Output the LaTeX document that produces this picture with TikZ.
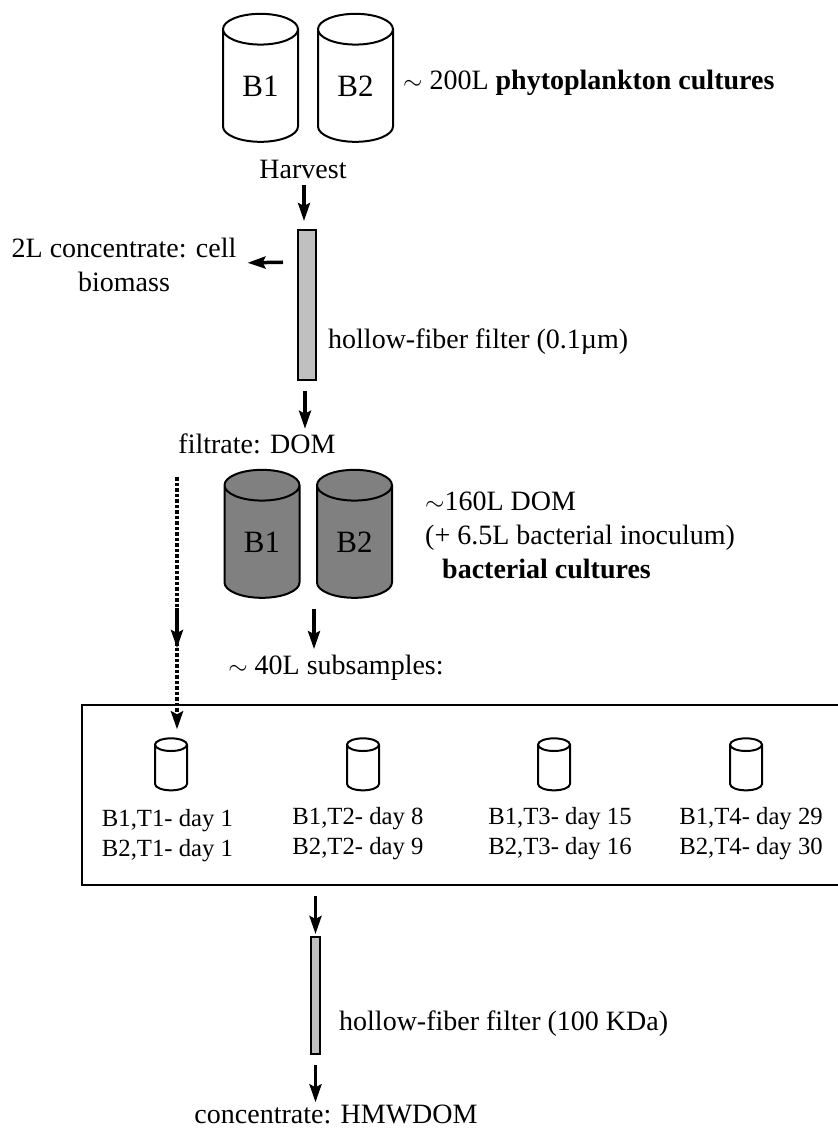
\documentclass[tikz,border=0pt]{standalone}
\usepackage{fontspec}
\setmainfont{Liberation Serif}
\usepackage{tikz}
\usetikzlibrary{arrows.meta,shapes.geometric}
\definecolor{drumdark}{RGB}{128,128,128}
\definecolor{drumtop}{RGB}{184,184,184}
\definecolor{filtergray}{RGB}{192,192,192}
\tikzset{
    flow/.style={-{Stealth[length=18pt,width=12pt,inset=3pt]},line width=3.5pt},
    drum/.style={draw,line width=2pt,cylinder,shape border rotate=90,aspect=0.85,
        minimum width=75pt,minimum height=128pt,inner sep=0pt,font=\fontsize{31}{37}\selectfont},
    darkdrum/.style={drum,fill=drumdark,cylinder uses custom fill,cylinder body fill=drumdark,cylinder end fill=drumtop},
    filterbar/.style={draw,line width=2pt,fill=filtergray,inner sep=0pt},
    tube/.style={draw,line width=2pt,cylinder,shape border rotate=90,aspect=1.9,
        minimum width=32pt,minimum height=52pt,inner sep=0pt},
    txt/.style={inner sep=0pt,font=\fontsize{28}{34}\selectfont},
    small/.style={inner sep=0pt,align=center,font=\fontsize{24.7}{30}\selectfont}
}
\begin{document}
\begin{tikzpicture}[x=1pt,y=-1pt]
    \useasboundingbox (0,0) rectangle (838,1128);
    % top cultures
    \node[drum] (top1) at (260.5,86) {B1};
    \node[drum] (top2) at (355.5,86) {B2};
    \node[txt,anchor=west] (phyto) at (403,83) {$\sim$ 200L \textbf{phytoplankton cultures}};
    \node[txt] (harvest) at (303,169) {Harvest};
    % first filter
    \node[filterbar,minimum width=18pt,minimum height=150pt] (filter1) at (307,305) {};
    \node[txt,align=center] (biomass) at (124,265) {2L concentrate: cell\\biomass};
    \node[txt,anchor=west] (pore1) at (328,342) {hollow-fiber filter (0.1µm)};
    \node[txt] (filtrate) at (257,444) {filtrate: DOM};
    \draw[flow,shorten <=6pt,shorten >=8pt] ([xshift=1pt]harvest.south) -- ([xshift=-3pt]filter1.north);
    \draw[flow,shorten <=14pt,shorten >=11pt] ([yshift=-33pt]filter1.north west) -- (biomass.east |- {0,263});
    \draw[flow,shorten <=10pt,shorten >=5pt] ([xshift=-2pt]filter1.south) -- ([xshift=48pt]filtrate.north);
    % bacterial cultures
    \node[darkdrum] (bac1) at (262,542) {B1};
    \node[darkdrum] (bac2) at (354.5,542) {B2};
    \node[txt,anchor=west,align=left] (dom) at (425,535) {$\sim$160L DOM\\(+ 6.5L bacterial inoculum)\\\hspace*{17pt}\textbf{bacterial cultures}};
    \node[txt] (subs) at (336,668) {$\sim$ 40L subsamples:};
    \coordinate (midx) at (314,0);
    \draw[flow,shorten <=10pt,shorten >=6pt] (bac1.south -| midx) -- (subs.north -| midx);
    % subsample box
    \node[draw,line width=2pt,minimum width=780pt,minimum height=180pt,anchor=north west] (box) at (81,704) {};
    \foreach \n/\x/\lx/\ly/\a/\b/\c in {1/171/167.5/836/1/1/1,2/363/358/834/2/8/9,3/554/560/834/3/15/16,4/746/751/834/4/29/30}{
        \node[tube] (tube\n) at (\x,768) {\phantom{B}};
        \node[small] (lab\n) at (\lx,\ly) {B1,T\a- day \b\\B2,T\a- day \c};
    }
    \coordinate (dotstart) at (177,477);
    \coordinate (solidstart) at (177,608);
    \coordinate (solidend) at (177,648);
    \draw[flow,dotted,line width=4pt,shorten >=8pt] (dotstart) -- (dotstart |- tube1.north);
    \draw[flow] (solidstart) -- (solidend);
    % second filter
    \node[filterbar,minimum width=9pt,minimum height=117pt] (filter2) at (315.5,995.5) {};
    \node[txt,anchor=west] (pore2) at (339,1024) {hollow-fiber filter (100 KDa)};
    \node[txt] (hmw) at (336,1114) {concentrate: HMWDOM};
    \draw[flow,shorten <=10pt,shorten >=2pt] (box.south -| filter2.north) -- (filter2.north);
    \draw[flow,shorten <=10pt,shorten >=2pt] (filter2.south) -- (hmw.north -| filter2.south);
\end{tikzpicture}
\end{document}
